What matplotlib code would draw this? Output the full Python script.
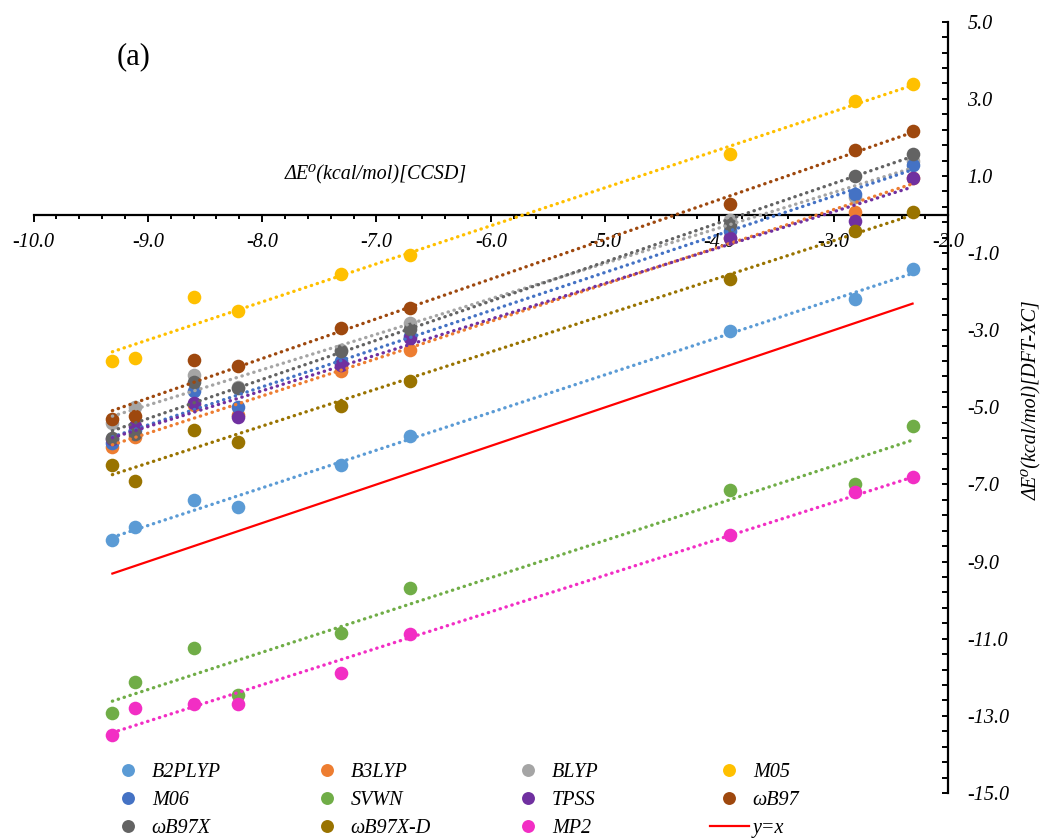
import numpy as np
import matplotlib
matplotlib.use("Agg")
import matplotlib.pyplot as plt
from matplotlib.ticker import MultipleLocator, FixedLocator, FormatStrFormatter

plt.rcParams['font.family'] = ['Liberation Serif', 'DejaVu Serif']
plt.rcParams['font.style'] = 'italic'
plt.rcParams['axes.unicode_minus'] = False

# Reaction energies: CCSD reference (x) and each method (y), kcal/mol
x_ccsd = [-9.31, -9.11, -8.60, -8.21, -7.31, -6.71, -3.91, -2.81, -2.31]

b2plyp = [-8.44, -8.10, -7.39, -7.59, -6.50, -5.74, -3.02, -2.19, -1.41]
b3lyp = [-6.02, -5.76, -4.94, -5.20, -4.06, -3.51, -0.60, 0.06, 0.95]
blyp = [-5.40, -4.98, -4.16, -4.47, -3.50, -2.81, -0.13, 0.45, 1.40]
m05 = [-3.80, -3.71, -2.13, -2.50, -1.55, -1.05, 1.57, 2.94, 3.38]
m06 = [-5.93, -5.59, -4.58, -4.98, -3.80, -3.15, -0.42, 0.52, 1.28]
svwn = [-12.92, -12.13, -11.23, -12.46, -10.86, -9.69, -7.14, -6.99, -5.48]
tpss = [-5.83, -5.49, -4.88, -5.26, -3.90, -3.21, -0.62, -0.16, 0.96]
wb97 = [-5.30, -5.23, -3.77, -3.92, -2.93, -2.43, 0.27, 1.67, 2.17]
wb97x = [-5.80, -5.68, -4.34, -4.51, -3.53, -2.98, -0.27, 1.00, 1.57]
wb97xd = [-6.50, -6.90, -5.59, -5.89, -4.96, -4.31, -1.68, -0.42, 0.07]
mp2 = [-13.50, -12.79, -12.69, -12.69, -11.90, -10.89, -8.31, -7.19, -6.81]

names = ['B2PLYP', 'B3LYP', 'BLYP', 'M05', 'M06', 'SVWN', 'TPSS',
         'ωB97', 'ωB97X', 'ωB97X-D', 'MP2']
values = [b2plyp, b3lyp, blyp, m05, m06, svwn, tpss, wb97, wb97x, wb97xd, mp2]
colors = ['#5B9BD5', '#ED7D31', '#A5A5A5', '#FFC000', '#4472C4', '#70AD47',
          '#7030A0', '#9E480E', '#636363', '#997300', '#F22EC4']

W, H = 1047, 840
fig = plt.figure(figsize=(W / 100, H / 100), dpi=100)
left, right, top, bottom = 33.5, 948.0, 21.7, 793.0
ax = fig.add_axes([left / W, 1 - bottom / H, (right - left) / W, (bottom - top) / H])
ax.set_xlim(-10, -2)
ax.set_ylim(-15, 5)

xs = np.array(x_ccsd)
handles = {}
for name, vals, c in zip(names, values, colors):
    h, = ax.plot(xs, vals, 'o', ms=9.8, color=c, mec='none', zorder=3,
                 label=name, clip_on=False)
    handles[name] = h

# linear trendlines for every method
xf = np.array([xs.min(), xs.max()])
for vals, c in zip(values, colors):
    k, b = np.polyfit(xs, vals, 1)
    ax.plot(xf, k * xf + b, color=c, lw=2.4, linestyle=(0, (0.1, 1.75)),
            dash_capstyle='round', zorder=4)

ref, = ax.plot(xf, xf, color='#FF0000', lw=1.6, zorder=4, label='y=x')
handles['y=x'] = ref

# axes: horizontal axis through y=0, vertical axis on the right
for s in ('top', 'left'):
    ax.spines[s].set_visible(False)
ax.spines['bottom'].set_position(('data', 0))
ax.spines['bottom'].set_linewidth(1.6)
ax.spines['right'].set_linewidth(1.6)
ax.yaxis.tick_right()

ax.xaxis.set_major_locator(MultipleLocator(1.0))
ax.xaxis.set_minor_locator(MultipleLocator(0.2))
ax.yaxis.set_major_locator(FixedLocator(np.arange(-15, 5.01, 2)))
ax.yaxis.set_minor_locator(FixedLocator(5 - 0.4 * np.arange(51)))
ax.xaxis.set_major_formatter(FormatStrFormatter('%.1f'))
ax.yaxis.set_major_formatter(FormatStrFormatter('%.1f'))

ax.tick_params(axis='x', which='major', direction='out', length=5, width=1.4,
               labelsize=14.5, pad=8)
ax.tick_params(axis='x', which='minor', direction='out', length=3.2, width=1.4)
ax.tick_params(axis='y', which='both', direction='in', length=4.5, width=1.4,
               labelsize=14.5, pad=14, right=True, left=False)

fig.text(376 / W, 1 - 174 / H, 'ΔE⁰(kcal/mol)[CCSD]', ha='center', va='center',
         fontsize=14.5)
fig.text(1031 / W, 1 - 400 / H, 'ΔE⁰(kcal/mol)[DFT-XC]', ha='center', va='center',
         rotation=90, fontsize=14.5)
fig.text(134 / W, 1 - 57 / H, '(a)', ha='center', va='center', fontsize=22,
         style='normal')

# legend laid out as four columns, three rows
legend_cols = [['B2PLYP', 'M06', 'ωB97X'],
               ['B3LYP', 'SVWN', 'ωB97X-D'],
               ['BLYP', 'TPSS', 'MP2'],
               ['M05', 'ωB97', 'y=x']]
col_x = [108.5, 307.5, 508.5, 709.5]
for col, x0 in zip(legend_cols, col_x):
    fig.legend([handles[n] for n in col], col, loc='upper left',
               bbox_to_anchor=(x0 / W, 1 - 763 / H),
               bbox_transform=fig.transFigure, frameon=False,
               borderpad=0, borderaxespad=0, handlelength=1.95,
               handletextpad=0.2, labelspacing=0.45, fontsize=14.5,
               markerscale=0.95)

fig.savefig('out.png', dpi=100)
